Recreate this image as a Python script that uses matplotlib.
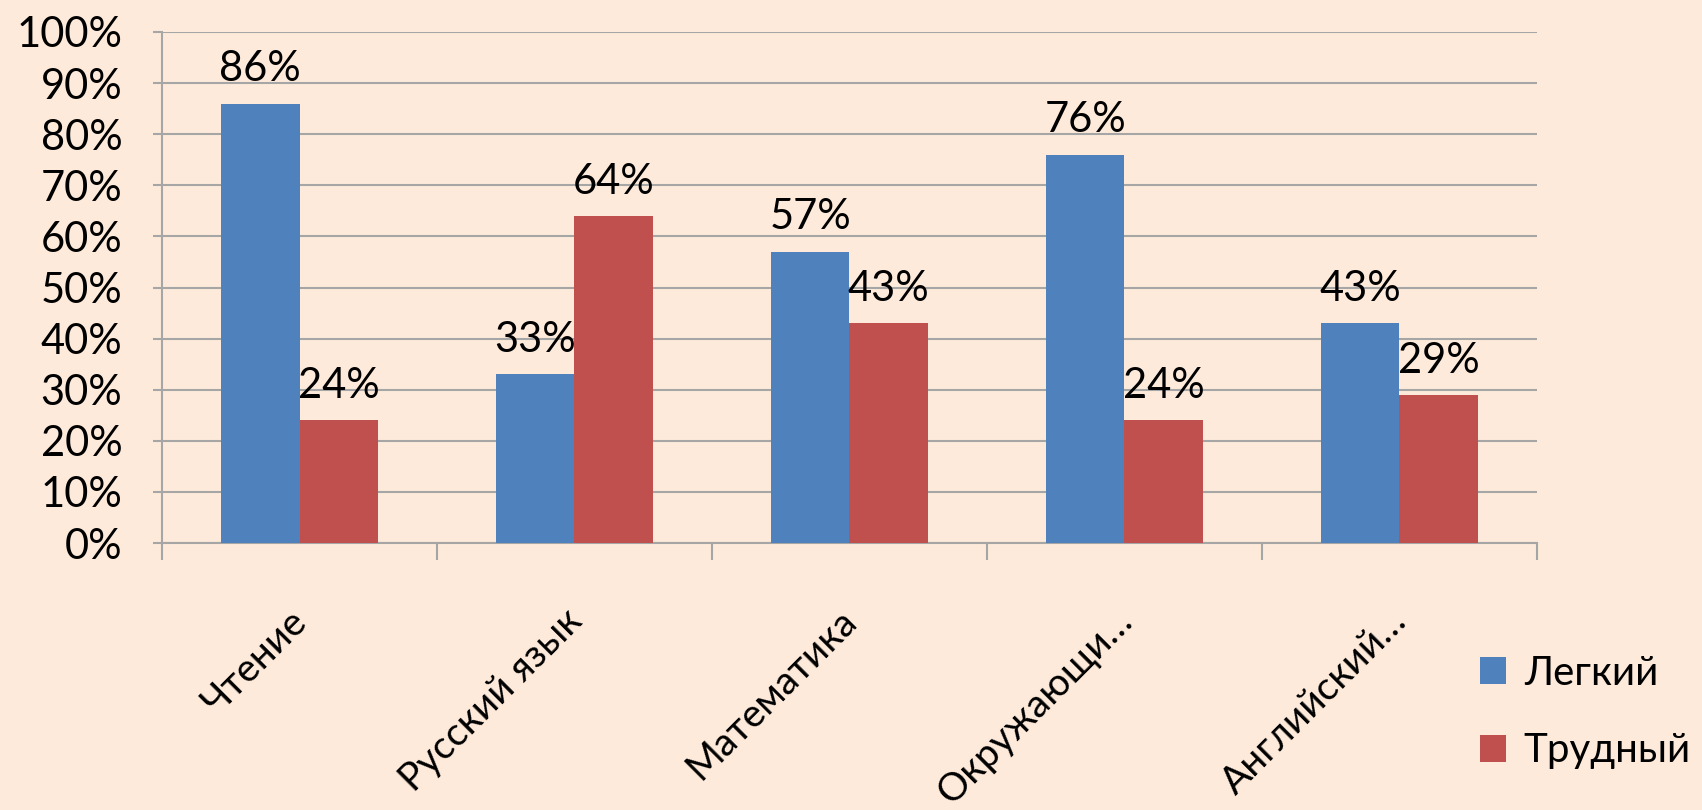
import matplotlib.pyplot as plt
import numpy as np
from matplotlib.ticker import FixedLocator, FuncFormatter

# Данные
categories = ['Чтение', 'Русский язык', 'Математика', 'Окружающи…', 'Английский…']
easy = [86, 33, 57, 76, 43]
hard = [24, 64, 43, 24, 29]
series_names = ['Легкий', 'Трудный']

bg = '#FDEADA'
blue = '#4F81BD'
red = '#C0504D'
grid_c = '#A6A6A6'

plt.rcParams['font.family'] = ['Lato', 'DejaVu Sans']
fs = 30

fig = plt.figure(figsize=(17.02, 8.10), dpi=100, facecolor=bg)
ax = fig.add_axes([0.0952, 0.3296, 0.8078, 0.6309])
ax.set_facecolor(bg)

x = np.arange(len(categories))
w = 1 / 3.5
b1 = ax.bar(x - w / 2, easy, w, color=blue, label=series_names[0], zorder=3)
b2 = ax.bar(x + w / 2, hard, w, color=red, label=series_names[1], zorder=3)

# подписи значений
for bars, vals in [(b1, easy), (b2, hard)]:
    for r, v in zip(bars, vals):
        ax.annotate(f'{v}%', (r.get_x() + r.get_width() / 2, v),
                    xytext=(0, 11), textcoords='offset points',
                    ha='center', va='bottom', fontsize=fs)

ax.set_xlim(-0.5, len(categories) - 0.5)
ax.set_ylim(0, 100)
ax.set_yticks(np.arange(0, 101, 10))
ax.yaxis.set_major_formatter(FuncFormatter(lambda v, p: f'{v:.0f}%'))
ax.grid(axis='y', color=grid_c, linewidth=1.5, zorder=0)
ax.tick_params(axis='y', labelsize=fs, length=6.5, width=1.5, color=grid_c, pad=22)

# подписи категорий (повернутые)
ax.set_xticks(x)
ax.set_xticklabels([''] * len(categories))
for i, c in enumerate(categories):
    ax.annotate(c, (i, 0), xytext=(-8, -43), textcoords='offset points',
                rotation=45, ha='right', va='top', rotation_mode='anchor',
                fontsize=28, annotation_clip=False)
ax.xaxis.set_minor_locator(FixedLocator(np.arange(-0.5, len(categories), 1)))
ax.tick_params(axis='x', which='major', length=0)
ax.tick_params(axis='x', which='minor', length=12, width=1.5, color=grid_c)

for s in ['top', 'right']:
    ax.spines[s].set_visible(False)
for s in ['left', 'bottom']:
    ax.spines[s].set_color(grid_c)
    ax.spines[s].set_linewidth(1.5)

fig.legend(loc='upper left', bbox_to_anchor=(0.848, 0.236), frameon=False,
           fontsize=29, handlelength=0.65, handleheight=0.65, handletextpad=0.45,
           labelspacing=1.0)

fig.savefig('out.png', dpi=100, facecolor=bg)
